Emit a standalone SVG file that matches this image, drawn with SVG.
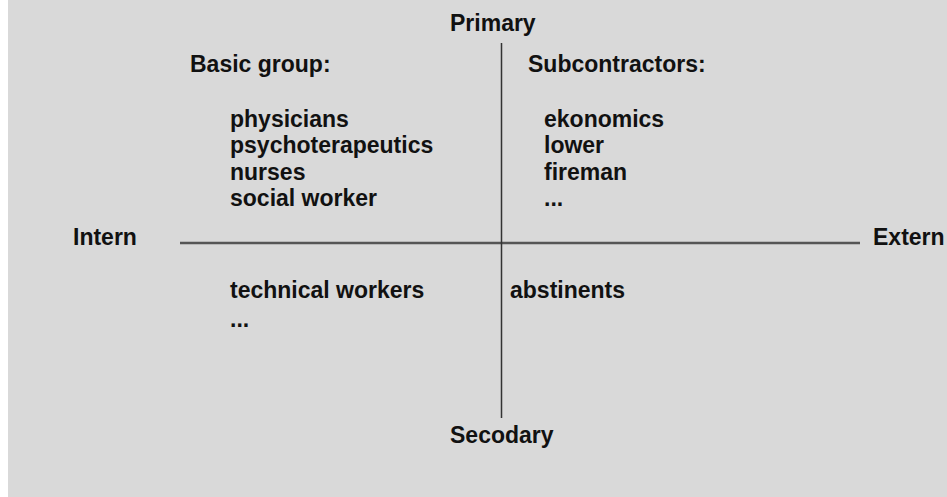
<svg xmlns="http://www.w3.org/2000/svg" width="947" height="497" viewBox="0 0 947 497">
<style>
text{font-family:"Liberation Sans",Arial,sans-serif;font-weight:bold;font-size:23px;fill:#111}
.ax{stroke:#333;fill:none}
</style>
<rect x="0" y="0" width="947" height="497" fill="#ffffff"/>
<rect x="8" y="0" width="939" height="497" fill="#d9d9d9"/>
<g id="connectors">
<line class="ax" x1="180" y1="243" x2="860" y2="243" stroke-width="2.5" style="stroke:#555"/>
<line class="ax" x1="501.5" y1="43" x2="501.5" y2="418" stroke-width="1.5"/>
</g>
<g id="primary"><text x="450" y="31">Primary</text></g>
<g id="secondary"><text x="450" y="443">Secodary</text></g>
<g id="intern"><text x="73" y="245">Intern</text></g>
<g id="extern"><text x="873" y="245">Extern</text></g>
<g id="basic-group">
<text x="190" y="72">Basic group:</text>
<text x="230" y="127">physicians</text>
<text x="230" y="153">psychoterapeutics</text>
<text x="230" y="180">nurses</text>
<text x="230" y="206">social worker</text>
</g>
<g id="subcontractors">
<text x="528" y="72">Subcontractors:</text>
<text x="544" y="127">ekonomics</text>
<text x="544" y="153">lower</text>
<text x="544" y="180">fireman</text>
<text x="544" y="206">...</text>
</g>
<g id="secondary-intern">
<text x="230" y="298">technical workers</text>
<text x="230" y="327">...</text>
</g>
<g id="secondary-extern">
<text x="510" y="298">abstinents</text>
</g>
</svg>
